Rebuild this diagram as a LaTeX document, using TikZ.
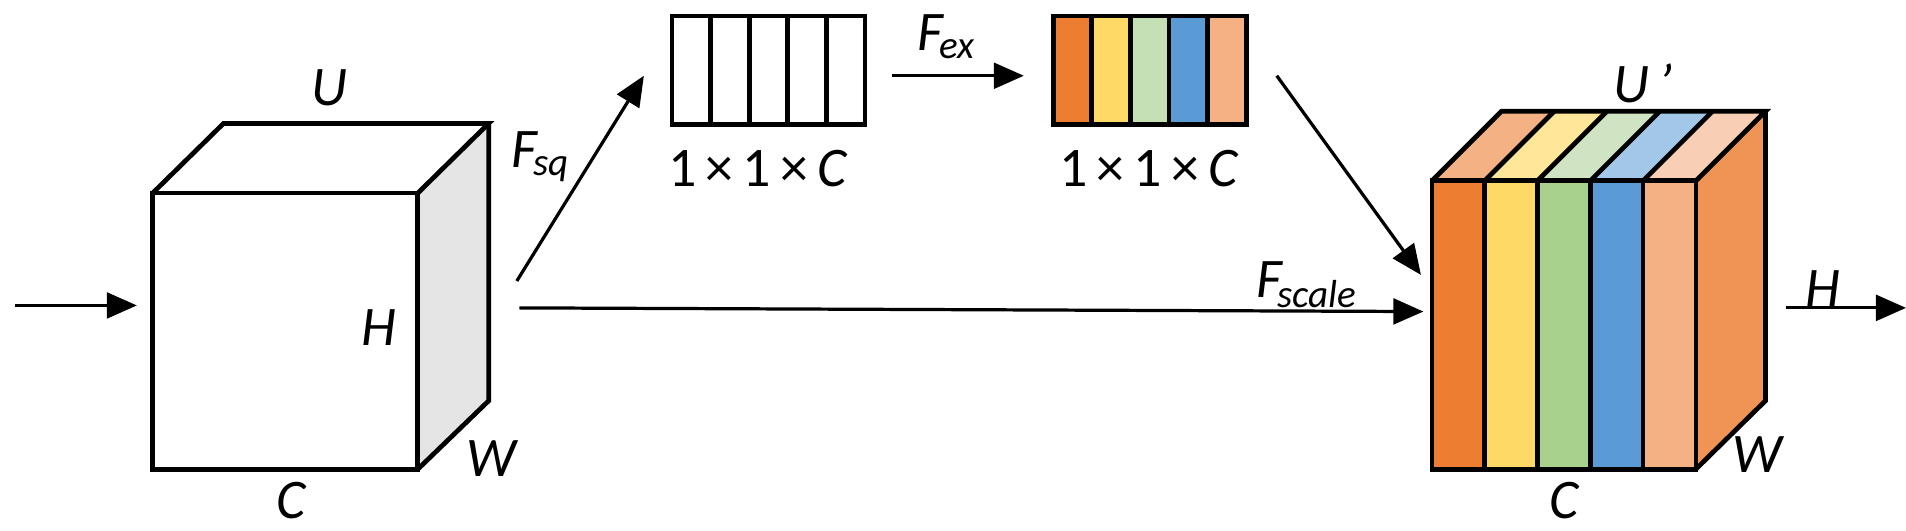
\documentclass[tikz,border=0pt]{standalone}
\usepackage{fontspec}
\setmainfont{Carlito}
\usetikzlibrary{arrows.meta}
\definecolor{cOr}{HTML}{ED7D31}
\definecolor{cYe}{HTML}{FFD966}
\definecolor{cGrL}{HTML}{C5E0B4}
\definecolor{cGr}{HTML}{A9D18E}
\definecolor{cBl}{HTML}{5B9BD5}
\definecolor{cPe}{HTML}{F4B183}
\definecolor{tOr}{HTML}{F4B183}
\definecolor{tYe}{HTML}{FFE699}
\definecolor{tGr}{HTML}{D0E3C3}
\definecolor{tBl}{HTML}{A3C7E8}
\definecolor{tPe}{HTML}{F8CFB5}
\definecolor{sideOr}{HTML}{F09455}
\tikzset{
  edge/.style={line width=1.1pt, line join=miter},
  conn/.style={line width=0.75pt, -{Triangle[length=7pt,width=6pt]}},
  lab/.style={font=\fontsize{13}{13}\selectfont\itshape, inner sep=1pt},
  dimlab/.style={font=\fontsize{13}{13}\selectfont, inner sep=1pt},
}
\begin{document}
\begin{tikzpicture}[x=0.01cm,y=-0.01cm]
\useasboundingbox (0,0) rectangle (1560,434);
% cube 1
\fill[gray!20] (342,158) -- (400,101) -- (400,328) -- (342,384) -- cycle;
\draw[edge] (125,158) rectangle (342,384);
\draw[edge] (125,158) -- (183,101) -- (400,101) -- (342,158);
\draw[edge] (400,101) -- (400,328) -- (342,384);
\coordinate (in) at (12,250);
\coordinate (c1in) at (112,250);
\coordinate (c1a) at (423,230);
\coordinate (c1b) at (425,252);
\node[lab] (U) at (270,72) {U};
\node[lab] (H) at (310,268) {H};
\node[lab] (C) at (238,410) {C};
\node[lab] (W) at (402,375) {W};
\draw[conn] (in) -- (c1in);
% box 1
\draw[edge] (550,13) rectangle (708,102);
\foreach \i in {1,2,3,4} \draw[edge] (550+31.6*\i,13) -- (550+31.6*\i,102);
\coordinate (b1in) at (527,62);
\coordinate (b1out) at (730,62);
\node[dimlab] (l1) at (620,138) {1\,×\,1\,×\,{\itshape C}};
% box 2
\foreach \c [count=\i from 0] in {cOr,cYe,cGrL,cBl,cPe}
  \fill[\c] (862+31.6*\i,13) rectangle (862+31.6*\i+31.6,102);
\draw[edge] (862,13) rectangle (1020,102);
\foreach \i in {1,2,3,4} \draw[edge] (862+31.6*\i,13) -- (862+31.6*\i,102);
\coordinate (b2in) at (838,62);
\coordinate (b2out) at (1045,62);
\node[dimlab] (l2) at (940,138) {1\,×\,1\,×\,{\itshape C}};
% cube 2
\fill[sideOr] (1388,148) -- (1445,91) -- (1445,328) -- (1388,384) -- cycle;
\foreach \c [count=\i from 0] in {cOr,cYe,cGr,cBl,cPe}
  \fill[\c] (1172+43.2*\i,148) rectangle (1172+43.2*\i+43.2,384);
\foreach \c [count=\i from 0] in {tOr,tYe,tGr,tBl,tPe}
  \fill[\c] (1172+43.2*\i,148) -- (1229+43.2*\i,91) -- (1229+43.2*\i+43.2,91) -- (1172+43.2*\i+43.2,148) -- cycle;
\foreach \i in {1,2,3,4} {
  \draw[edge] (1172+43.2*\i,148) -- (1172+43.2*\i,384);
  \draw[edge] (1172+43.2*\i,148) -- (1229+43.2*\i,91);
}
\draw[edge] (1172,148) rectangle (1388,384);
\draw[edge] (1172,148) -- (1229,91) -- (1445,91) -- (1388,148);
\draw[edge] (1445,91) -- (1445,328) -- (1388,384);
\coordinate (c2a) at (1163,225);
\coordinate (c2b) at (1165,255);
\coordinate (c2out) at (1462,252);
\coordinate (out) at (1560,252);
\node[lab] (U2) at (1345,68) {U\,’};
\node[lab] (H2) at (1492,236) {H};
\node[lab] (C2) at (1280,410) {C};
\node[lab] (W2) at (1438,372) {W};
\draw[conn] (c2out) -- (out);
% connectors
\draw[conn] (c1a) -- (b1in);
\node[lab] (fsq) at (443,128) {F\textsubscript{\kern-1pt sq}};
\draw[conn] (c1b) -- (c2b);
\node[lab] (fsc) at (1070,233) {F\textsubscript{\kern-1pt scale}};
\draw[conn] (b1out) -- (b2in);
\node[lab] (fex) at (775,30) {F\textsubscript{\kern-1pt ex}};
\draw[conn] (b2out) -- (c2a);
\end{tikzpicture}
\end{document}
